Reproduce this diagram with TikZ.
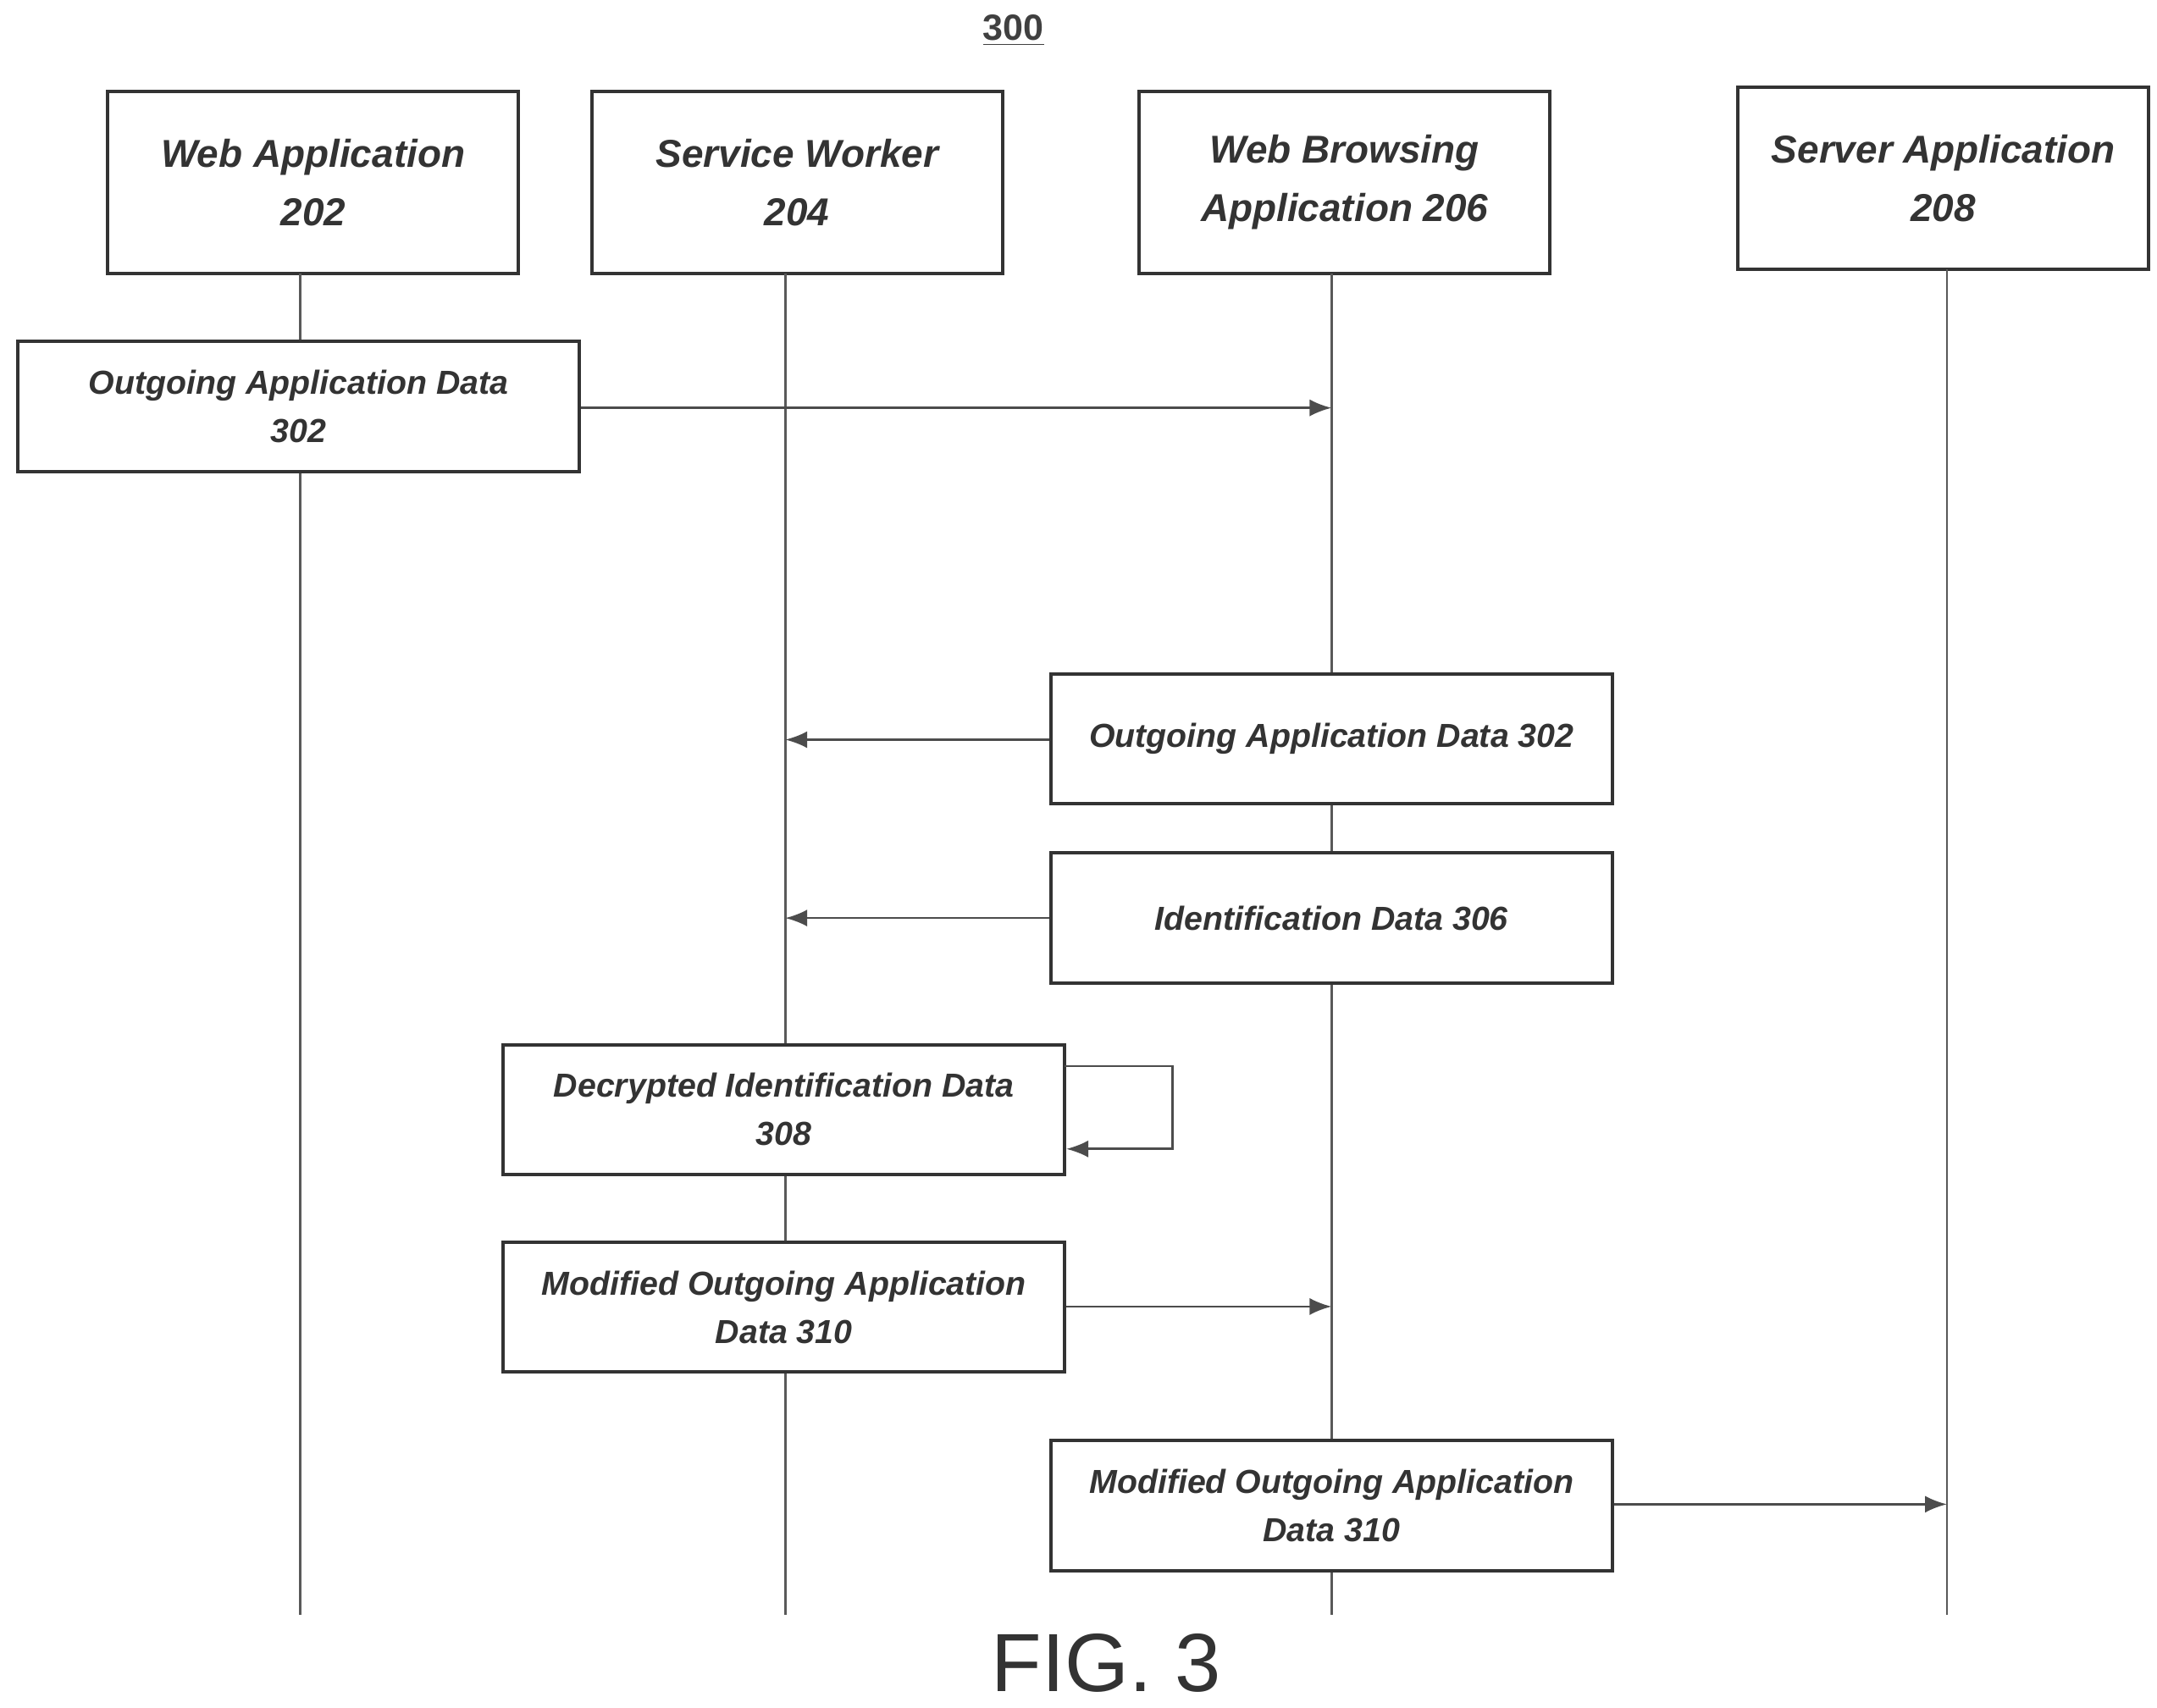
\documentclass[tikz,border=0pt]{standalone}
\usepackage{fontspec}
\setmainfont{Liberation Sans}
\usetikzlibrary{arrows.meta}
\begin{document}
\begin{tikzpicture}[x=0.02cm,y=-0.02cm,
  box/.style={draw=black!80,line width=1.4pt,fill=white,align=center,font=\fontsize{13.7}{20}\selectfont\bfseries\itshape,text=black!80,inner sep=0pt},
  hbox/.style={box,font=\fontsize{16}{24}\selectfont\bfseries\itshape},
  life/.style={draw=black!65,line width=0.9pt},
  msg/.style={draw=black!70,line width=0.9pt,-{Latex[length=9pt,width=7pt]}}]
\useasboundingbox (0,0) rectangle (1560,1235);
\node[font=\fontsize{15}{18}\selectfont\bfseries,text=black!75] (t) at (733,22) {\underline{300}};
% headers
\node[hbox,minimum width=297*0.02cm,minimum height=132*0.02cm] (h1) at (226.5,132) {Web Application\\202};
\node[hbox,minimum width=297*0.02cm,minimum height=132*0.02cm] (h2) at (576.5,132) {Service Worker\\204};
\node[hbox,minimum width=297*0.02cm,minimum height=132*0.02cm] (h3) at (972.5,132) {Web Browsing\\Application 206};
\node[hbox,minimum width=297*0.02cm,minimum height=132*0.02cm] (h4) at (1405.5,129) {Server Application\\208};
% lifelines
\coordinate (e1) at (217,1168); \coordinate (e2) at (568,1168);
\coordinate (e3) at (963,1168); \coordinate (e4) at (1408,1168);
\draw[life] (217,198) -- (e1);
\draw[life] (568,198) -- (e2);
\draw[life] (963,198) -- (e3);
\draw[life] (1408,195) -- (e4);
% message boxes
\tikzset{mb/.style={box,minimum width=406*0.02cm,minimum height=94*0.02cm}}
\node[mb] (b1) at (216,294) {Outgoing Application Data\\302};
\node[mb] (b2) at (963,534.5) {Outgoing Application Data 302};
\node[mb] (b3) at (963,664) {Identification Data 306};
\node[mb] (b4) at (567,802.5) {Decrypted Identification Data\\308};
\node[mb] (b5) at (567,945.5) {Modified Outgoing Application\\Data 310};
\node[mb] (b6) at (963,1089) {Modified Outgoing Application\\Data 310};
\coordinate (a1) at (963,295);
\coordinate (a2) at (568,535);
\coordinate (a3) at (568,664);
\coordinate (a5) at (963,945);
\coordinate (a6) at (1408,1088);
\draw[msg] (b1.east |- a1) -- (a1);
\draw[msg] (b2.west |- a2) -- (a2);
\draw[msg] (b3.west |- a3) -- (a3);
\draw[msg] (b5.east |- a5) -- (a5);
\draw[msg] (b6.east |- a6) -- (a6);
\draw[msg] (770,771) -- (848,771) -- (848,831) -- (b4.east |- 0,831);
\node[font=\fontsize{34}{36}\selectfont,text=black!80] (fig) at (800,1203) {FIG. 3};
\end{tikzpicture}
\end{document}
